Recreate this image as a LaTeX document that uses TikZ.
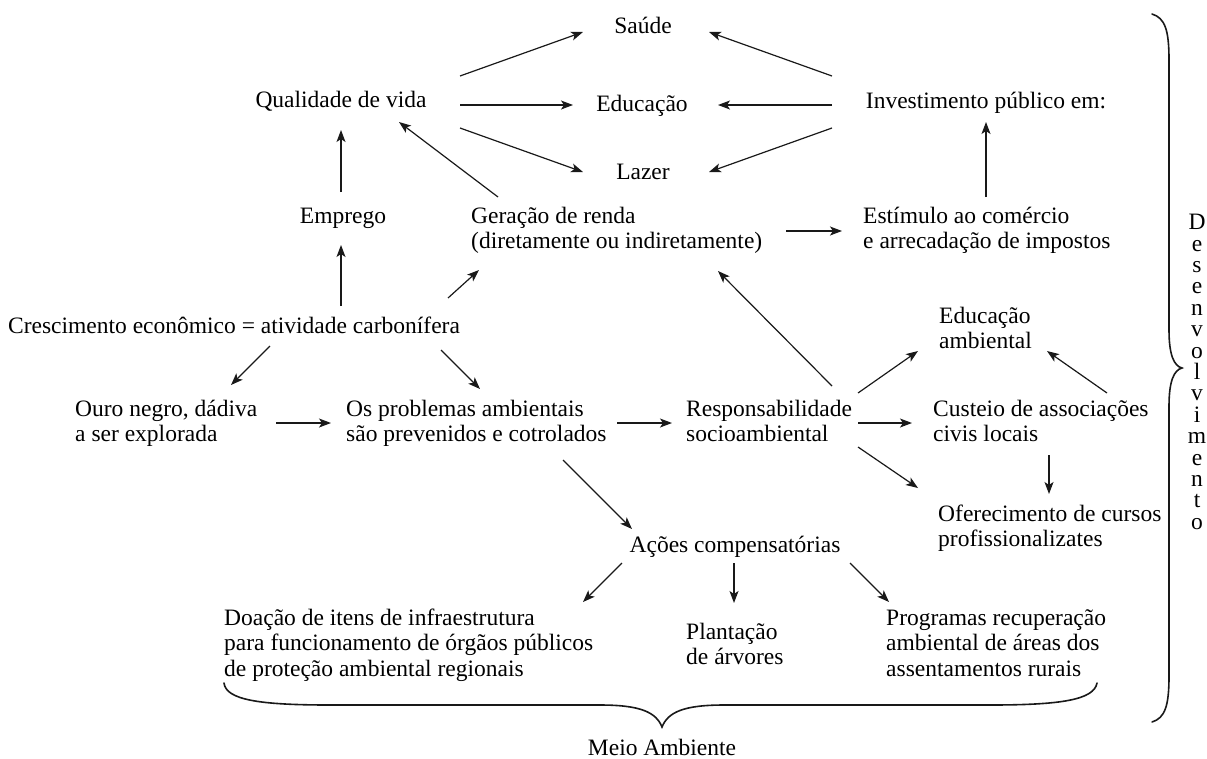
\documentclass[tikz,border=0pt]{standalone}
\usepackage{fontspec}
\setmainfont{Liberation Serif}
\usetikzlibrary{arrows.meta}
\tikzset{
  txt/.style={inner sep=0pt, font=\fontsize{23.5}{25.5}\selectfont, align=left},
  arr/.style={-{Stealth[length=12pt,width=9pt,inset=3pt]}, line width=1.2pt, black!90},
  bracepath/.style={line width=1.6pt, black!90, line cap=round}
}
\begin{document}
\begin{tikzpicture}[x=1pt,y=-1pt]
\useasboundingbox (0,0) rectangle (1207,758);
% nodes (base anchors = baseline of the last line)
\node[txt,anchor=base] (sau) at (643,33) {Saúde};
\node[txt,anchor=base] (edu) at (642,111) {Educação};
\node[txt,anchor=base] (laz) at (643,179) {Lazer};
\node[txt,anchor=base] (qual) at (341,107) {Qualidade de vida};
\node[txt,anchor=base] (inv) at (986,108) {Investimento público em:};
\node[txt,anchor=base] (emp) at (343,223) {Emprego};
\node[txt,anchor=base west] (ger) at (471,248.5) {Geração de renda\\(diretamente ou indiretamente)};
\node[txt,anchor=base west] (est) at (863,248.5) {Estímulo ao comércio\\e arrecadação de impostos};
\node[txt,anchor=base] (cre) at (234,333) {Crescimento econômico = atividade carbonífera};
\node[txt,anchor=base west] (ouro) at (75,441.5) {Ouro negro, dádiva\\a ser explorada};
\node[txt,anchor=base west] (prob) at (346,441.5) {Os problemas ambientais\\são prevenidos e cotrolados};
\node[txt,anchor=base west] (resp) at (686,441.5) {Responsabilidade\\socioambiental};
\node[txt,anchor=base west] (eduamb) at (939,348.5) {Educação\\ambiental};
\node[txt,anchor=base west] (cust) at (933,441.5) {Custeio de associações\\civis locais};
\node[txt,anchor=base west] (ofer) at (938,546.5) {Oferecimento de cursos\\profissionalizates};
\node[txt,anchor=base] (acoes) at (735,552) {Ações compensatórias};
\node[txt,anchor=base west] (doa) at (224,676) {Doação de itens de infraestrutura\\para funcionamento de órgãos públicos\\de proteção ambiental regionais};
\node[txt,anchor=base west] (plan) at (686,664.5) {Plantação\\de árvores};
\node[txt,anchor=base west] (prog) at (886,676) {Programas recuperação\\ambiental de áreas dos\\assentamentos rurais};
\node[txt,anchor=base] (meio) at (662,755) {Meio Ambiente};
\node[inner sep=0pt, font=\fontsize{23.5}{21.4}\selectfont, align=center] (desenv) at (1197,372)
  {D\\e\\s\\e\\n\\v\\o\\l\\v\\i\\m\\e\\n\\t\\o};
% connectors
\draw[arr] ([shift={(119,-31)}]qual.base) -- ([shift={(-60,-1)}]sau.base);
\draw[arr] ([shift={(119,-2)}]qual.base) -- ([shift={(-69,-6)}]edu.base);
\draw[arr] ([shift={(119,21)}]qual.base) -- ([shift={(-60,-7)}]laz.base);
\draw[arr] ([shift={(-154,-32)}]inv.base) -- ([shift={(66,-1)}]sau.base);
\draw[arr] ([shift={(-154,-3)}]inv.base) -- ([shift={(76,-6)}]edu.base);
\draw[arr] ([shift={(-154,20)}]inv.base) -- ([shift={(66,-7)}]laz.base);
\draw[arr] ([shift={(123,-51.5)}]est.base west) -- ([shift={(0,14)}]inv.base);
\draw[arr] ([shift={(315,-17.5)}]ger.base west) -- ([shift={(-21,-17.5)}]est.base west);
\draw[arr] ([shift={(27,-51.5)}]ger.base west) -- ([shift={(58,15)}]qual.base);
\draw[arr] ([shift={(-2,-31)}]emp.base) -- ([shift={(0,23)}]qual.base);
\draw[arr] ([shift={(107,-27)}]cre.base) -- ([shift={(-2,22)}]emp.base);
\draw[arr] ([shift={(214,-35)}]cre.base) -- ([shift={(8,21.5)}]ger.base west);
\draw[arr] ([shift={(36,13)}]cre.base) -- ([shift={(156,-56.5)}]ouro.base west);
\draw[arr] ([shift={(207,17)}]cre.base) -- ([shift={(134,-52.5)}]prob.base west);
\draw[arr] ([shift={(201,-18.5)}]ouro.base west) -- ([shift={(-15,-18.5)}]prob.base west);
\draw[arr] ([shift={(271,-18.5)}]prob.base west) -- ([shift={(-14,-18.5)}]resp.base west);
\draw[arr] ([shift={(146,-55.5)}]resp.base west) -- ([shift={(247,22.5)}]ger.base west);
\draw[arr] ([shift={(172,-48.5)}]resp.base west) -- ([shift={(-21,2.5)}]eduamb.base west);
\draw[arr] ([shift={(172,-18.5)}]resp.base west) -- ([shift={(-21,-18.5)}]cust.base west);
\draw[arr] ([shift={(172,5.5)}]resp.base west) -- ([shift={(-20,-58.5)}]ofer.base west);
\draw[arr] ([shift={(174,-48.5)}]cust.base west) -- ([shift={(108,2.5)}]eduamb.base west);
\draw[arr] ([shift={(116,13.5)}]cust.base west) -- ([shift={(111,-52.5)}]ofer.base west);
\draw[arr] ([shift={(217,18.5)}]prob.base west) -- ([shift={(-103,-23)}]acoes.base);
\draw[arr] ([shift={(-113,11)}]acoes.base) -- ([shift={(359,-74)}]doa.base west);
\draw[arr] ([shift={(-1,11)}]acoes.base) -- ([shift={(48,-61.5)}]plan.base west);
\draw[arr] ([shift={(115,11)}]acoes.base) -- ([shift={(3,-74)}]prog.base west);
% braces
\draw[bracepath] (1152,14) .. controls (1165,18) and (1169,30) .. (1169,60)
  -- (1169,330) .. controls (1169,355) and (1174,366) .. (1182,368)
  .. controls (1174,370) and (1169,381) .. (1169,406)
  -- (1169,676) .. controls (1169,706) and (1165,718) .. (1152,722);
\draw[bracepath] (224,683) .. controls (226,700) and (260,705) .. (330,705)
  -- (600,705) .. controls (640,705) and (656,712) .. (662,727)
  .. controls (668,712) and (684,705) .. (724,705)
  -- (990,705) .. controls (1060,705) and (1094,700) .. (1097,683);
\end{tikzpicture}
\end{document}
